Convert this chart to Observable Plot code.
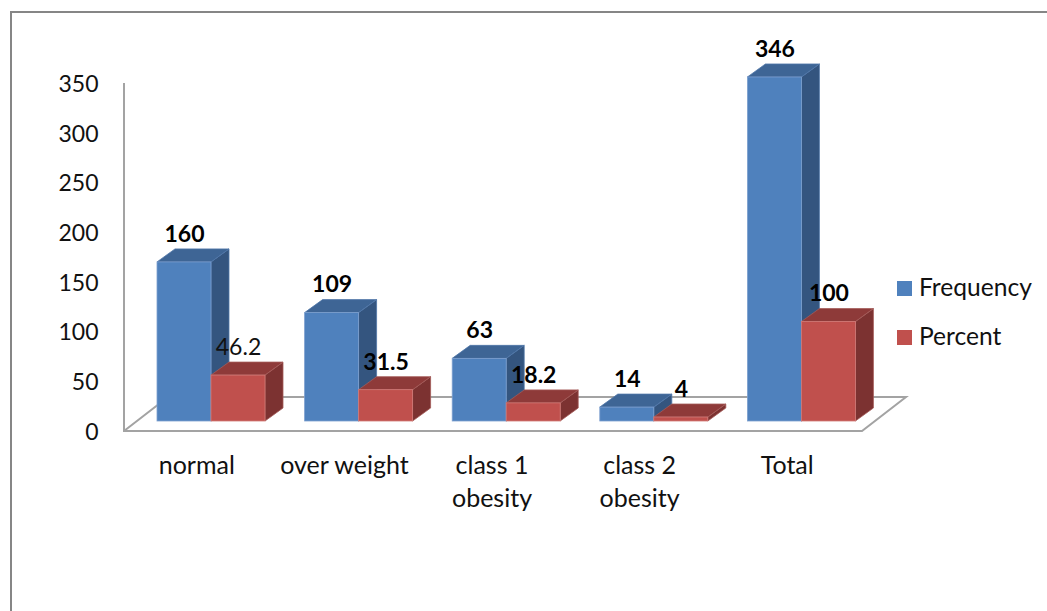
<!DOCTYPE html>
<html>
<head>
<meta charset="utf-8">
<script src="https://cdn.jsdelivr.net/npm/d3@7"></script>
<script src="https://cdn.jsdelivr.net/npm/@observablehq/plot@0.6"></script>
<style>
  html, body { margin: 0; padding: 0; background: #fff; }
  #wrap { position: relative; width: 1047px; height: 611px; overflow: hidden; font-family: Lato, sans-serif; color: #111; }
  #frame { position: absolute; left: 10px; top: 11px; width: 1040px; height: 610px; border-left: 2px solid #868686; border-top: 2px solid #868686; }
  .key { position: absolute; left: 897px; display: flex; align-items: center; font-size: 24.6px; line-height: 16px; height: 16px; }
  .key i { display: block; width: 15px; height: 15px; margin-right: 7px; }
  .key span { position: relative; top: -1px; }
  svg { position: absolute; left: 0; top: 0; }
</style>
</head>
<body>
<div id="wrap">
  <div id="chart"></div>
  <div id="frame"></div>
  <div class="key" style="top:280px"><i style="background:#4f81bd"></i><span>Frequency</span></div>
  <div class="key" style="top:329px"><i style="background:#c0504d"></i><span>Percent</span></div>
</div>
<script>
const categories = ["normal", "over weight", "class 1\nobesity", "class 2\nobesity", "Total"];
const frequency = [160, 109, 63, 14, 346];
const percent = [46.2, 31.5, 18.2, 4, 100];
const percentLabels = ["46.2", "31.5", "18.2", "4", "100"];
const yTicks = [0, 50, 100, 150, 200, 250, 300, 350];

const freqRows = categories.map((category, i) => ({category, value: frequency[i], label: String(frequency[i])}));
const pctRows = categories.map((category, i) => ({category, value: percent[i], label: percentLabels[i]}));

const FONT = "Lato, sans-serif";
const depthX = 18, depthY = 13, liftY = 10;
const barW = 54, freqInset = 33, pctInset = 87, bandW = 147.6;

function svgEl(name, attrs) {
  const el = document.createElementNS("http://www.w3.org/2000/svg", name);
  for (const k in attrs) el.setAttribute(k, attrs[k]);
  return el;
}

// side and top faces of the 3-D bars, placed through the chart's own scales
function faces(rows, inset, sideFill, topFill, edge) {
  return (index, {x, y}) => {
    const g = svgEl("g", {});
    for (const d of rows) {
      const xl = x(d.category) + inset, xr = xl + barW;
      const yt = y(d.value) - liftY, yb = y(0) - liftY;
      g.appendChild(svgEl("polygon", {
        points: [[xr, yt], [xr + depthX, yt - depthY], [xr + depthX, yb - depthY], [xr, yb]].join(" "),
        fill: sideFill, stroke: edge, "stroke-width": 0.8
      }));
      g.appendChild(svgEl("polygon", {
        points: [[xl, yt], [xl + depthX, yt - depthY], [xr + depthX, yt - depthY], [xr, yt]].join(" "),
        fill: topFill, stroke: edge, "stroke-width": 0.8
      }));
    }
    return g;
  };
}

// the floor of the 3-D plot and the vertical axis line
function floor(index, {x, y}) {
  const x0 = x(categories[0]);
  const step = x(categories[1]) - x(categories[0]);
  const x1 = x0 + step * categories.length;
  const y0 = y(0), y1 = y(0) - 34;
  const g = svgEl("g", {fill: "none", stroke: "#a3a3a3", "stroke-width": 2});
  g.appendChild(svgEl("polyline", {points: [[x0, y(350)], [x0, y0], [x1, y0], [x1 + 44, y1], [x0 + 44, y1], [x0, y0]].join(" ")}));
  return g;
}

const plot = Plot.plot({
  width: 1047,
  height: 611,
  marginLeft: 124,
  marginRight: 185,
  marginTop: 83,
  marginBottom: 180,
  style: {background: "transparent", fontFamily: FONT, fontSize: "23px", color: "#111", overflow: "visible"},
  x: {type: "band", domain: categories, padding: 0, round: false, label: null},
  y: {domain: [0, 350], label: null},
  marks: [
    floor,
    faces(freqRows, freqInset, "#34557f", "#3e6595", "#4f76a8"),
    Plot.barY(freqRows, {x: "category", y: "value", dy: -liftY, insetLeft: freqInset, insetRight: bandW - freqInset - barW, fill: "#4f81bd", stroke: "#7ea0cf", strokeWidth: 0.8}),
    faces(pctRows, pctInset, "#7c3231", "#8e3a39", "#a35a58"),
    Plot.barY(pctRows, {x: "category", y: "value", dy: -liftY, insetLeft: pctInset, insetRight: bandW - pctInset - barW, fill: "#c0504d", stroke: "#d17a77", strokeWidth: 0.8}),
    Plot.axisY({ticks: yTicks, tickSize: 0, tickPadding: 26, fontSize: 23, dy: 1, fill: "#111", label: null, tickFormat: d => String(d)}),
    Plot.axisX({tickSize: 0, tickPadding: 19, fontSize: 25, dx: -1.5, fill: "#111", lineHeight: 1.33, label: null}),
    Plot.text(freqRows, {x: "category", y: "value", text: "label", dx: -13.8, dy: -38, fontSize: 23, fontWeight: 700, fill: "#000"}),
    Plot.text(pctRows.filter(d => d.label !== "46.2"), {x: "category", y: "value", text: "label", dx: 40.2, dy: -38, fontSize: 23, fontWeight: 700, fill: "#000"}),
    Plot.text(pctRows.filter(d => d.label === "46.2"), {x: "category", y: "value", text: "label", dx: 40.2, dy: -38, fontSize: 23, fill: "#111"})
  ]
});
document.getElementById("chart").appendChild(plot);
</script>
</body>
</html>
